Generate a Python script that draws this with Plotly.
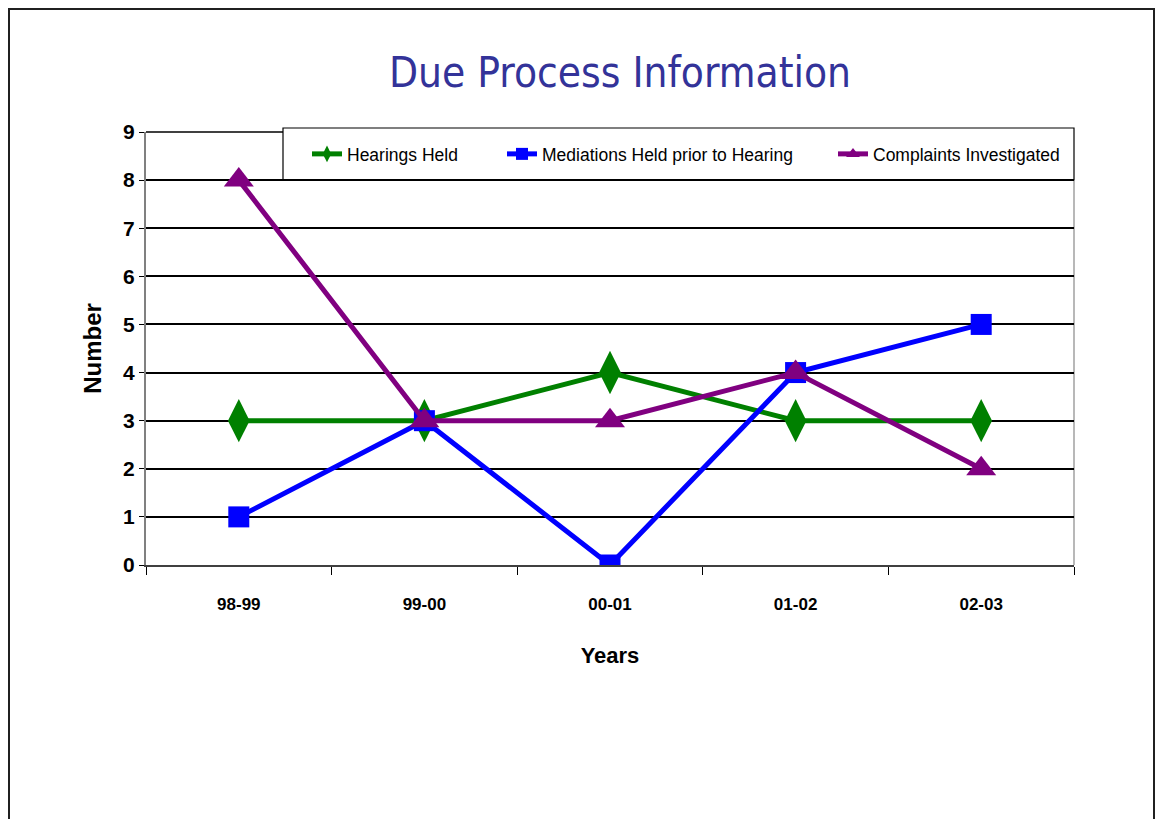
import plotly.graph_objects as go

years = ["98-99", "99-00", "00-01", "01-02", "02-03"]
hearings = [3, 3, 4, 3, 3]
mediations = [1, 3, 0, 4, 5]
complaints = [8, 3, 3, 4, 2]

W, H = 1155, 819
L, R, T, B = 146, 1074, 132, 565  # plot area in pixels


def px_x(px):
    return (px - L) / (R - L)


def px_y(py):
    return (B - py) / (B - T)


arial = "Liberation Sans, Arial, sans-serif"

fig = go.Figure()
fig.add_trace(go.Scatter(
    x=years, y=hearings, name="Hearings Held", mode="lines+markers",
    line=dict(color="#008000", width=5),
    marker=dict(symbol="diamond-tall", size=31, color="#008000"),
    legend="legend",
))
fig.add_trace(go.Scatter(
    x=years, y=mediations, name="Mediations Held prior to Hearing", mode="lines+markers",
    line=dict(color="#0000FF", width=5),
    marker=dict(symbol="square", size=21, color="#0000FF"),
    legend="legend2",
))
fig.add_trace(go.Scatter(
    x=years, y=complaints, name="Complaints Investigated", mode="lines+markers",
    line=dict(color="#800080", width=5),
    marker=dict(symbol="triangle-up", size=26, color="#800080"),
    legend="legend3",
))

fig.update_xaxes(
    type="category", range=[-0.5, 4.5],
    tickson="boundaries", ticks="outside", ticklen=8, tickcolor="#000000",
    showgrid=False, showline=True, linecolor="#404040", linewidth=2,
    tickfont=dict(family=arial, size=17, color="#000000", weight="bold"),
    ticklabelstandoff=23,
    title=dict(text="<b>Years</b>", font=dict(family=arial, size=22, color="#000000"), standoff=34),
    fixedrange=True,
)
fig.update_yaxes(
    range=[0, 9], dtick=1, ticks="outside", ticklen=5, tickcolor="#000000",
    showgrid=True, gridcolor="#000000", gridwidth=1.5,
    showline=True, linecolor="#808080", linewidth=2, zeroline=False,
    tickfont=dict(family=arial, size=21, color="#000000", weight="bold"),
    title=dict(text="<b>Number</b>", font=dict(family=arial, size=24, color="#000000"), standoff=15),
    fixedrange=True,
)

legend_style = dict(
    orientation="h", yanchor="middle", y=px_y(154), xanchor="left",
    bgcolor="rgba(0,0,0,0)", borderwidth=0,
    font=dict(family=arial, size=17.5, color="#000000"),
    itemsizing="constant",
)

fig.update_layout(
    width=W, height=H,
    margin=dict(l=L, r=W - R, t=T, b=H - B),
    paper_bgcolor="white", plot_bgcolor="white",
    title=dict(
        text="Due Process Information",
        font=dict(family="DejaVu Sans Condensed, DejaVu Sans, sans-serif", size=42, color="#333399"),
        x=620 / W, xanchor="center", y=1 - 72 / H, yanchor="middle",
    ),
    legend=dict(legend_style, x=px_x(307)),
    legend2=dict(legend_style, x=px_x(502)),
    legend3=dict(legend_style, x=px_x(833)),
    shapes=[
        # top gridline at 9
        dict(type="line", xref="paper", yref="paper", x0=0, x1=1, y0=1, y1=1,
             line=dict(color="#000000", width=1.5), layer="between"),
        # legend box
        dict(type="rect", xref="paper", yref="paper",
             x0=px_x(283), x1=px_x(1074), y0=px_y(180), y1=px_y(128),
             fillcolor="white", line=dict(color="#000000", width=1.2), layer="between"),
        # right edge of plot area
        dict(type="line", xref="paper", yref="paper", x0=1, x1=1, y0=0, y1=px_y(180),
             line=dict(color="#A0A0A0", width=1.5), layer="between"),
        # page frame
        dict(type="rect", xref="paper", yref="paper",
             x0=px_x(9), x1=px_x(1154), y0=px_y(830), y1=px_y(9),
             line=dict(color="#202020", width=2), layer="below"),
    ],
    showlegend=True,
)

fig.write_html("out.html", post_script="document.body.style.margin='0';",
               config={"displayModeBar": False})
